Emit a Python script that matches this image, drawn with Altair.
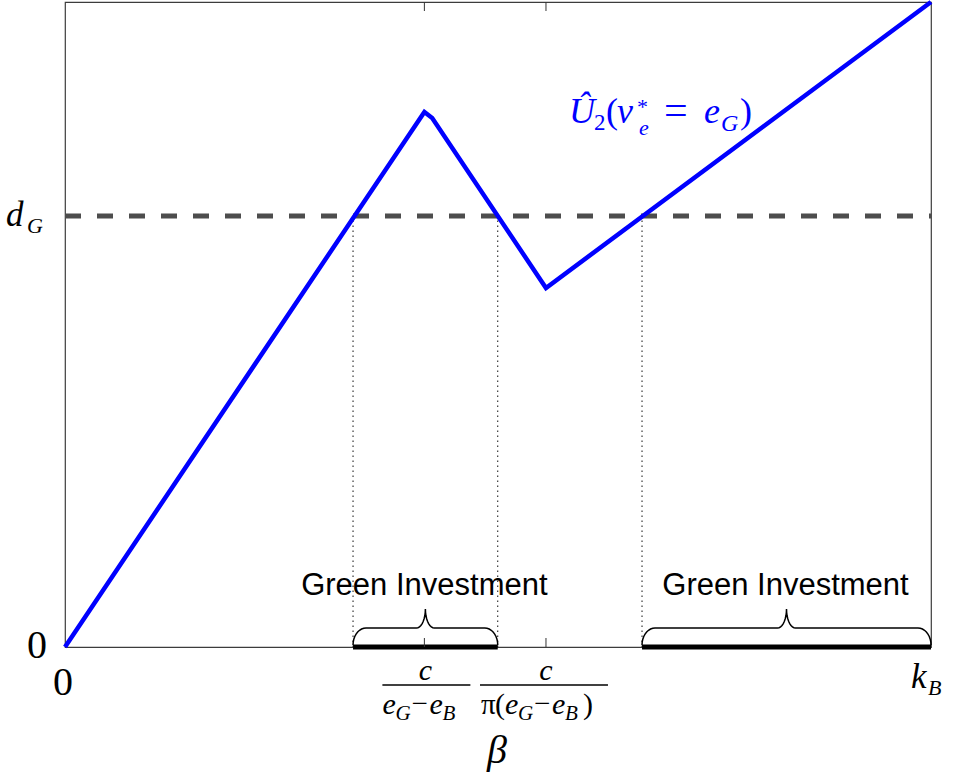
import altair as alt
import pandas as pd
import numpy as np

# ---------------- data ----------------
beta = [0.0, 4.15, 4.24, 5.554, 10.0]          # x positions of the utility curve vertices (k_B = 10)
u2 = [0.0, 8.295, 8.202, 5.566, 10.0]          # Û2(v*_e = e_G)
d_G = 6.682                                     # dashed threshold level
crossings = [3.326, 4.997, 6.663]               # where the curve crosses d_G
tick_x = [4.15, 5.554]                          # c/(eG-eB), c/(pi(eG-eB))
invest_start = [3.326, 6.663]                   # green investment intervals
invest_end = [4.997, 10.0]

# ---------------- geometry helpers ----------------
W, H = 866, 645
XMAX, YMAX = 10.0, 10.0
def px2x(px):
    return (px - 65) / W * XMAX
def py2y(py):
    return (647 - py) / H * YMAX
def x2px(x):
    return 65 + x / XMAX * W

xs = alt.Scale(domain=[0, XMAX], nice=False, zero=False)
ys = alt.Scale(domain=[0, YMAX], nice=False, zero=False)
X = lambda f: alt.X(f, type="quantitative", scale=xs, axis=None)
Y = lambda f: alt.Y(f, type="quantitative", scale=ys, axis=None)

curve = pd.DataFrame({"x": beta, "y": u2})
line = alt.Chart(curve).mark_line(color="#0000ff", strokeWidth=4.5, strokeJoin="miter").encode(
    x=X("x"), y=Y("y"))

dash = alt.Chart(pd.DataFrame({"x": [0.0], "x2": [XMAX], "y": [d_G]})).mark_rule(
    color="#4d4d4d", strokeWidth=5, strokeDash=[16, 16]).encode(x=X("x"), x2="x2", y=Y("y"))

dots = alt.Chart(pd.DataFrame({"x": crossings, "y": [0.0] * 3, "y2": [d_G] * 3})).mark_rule(
    color="#111111", strokeWidth=1, strokeDash=[1.5, 3.5]).encode(x=X("x"), y=Y("y"), y2="y2")

segs = alt.Chart(pd.DataFrame({"x": invest_start, "x2": invest_end, "y": [0.0, 0.0]})).mark_rule(
    color="black", strokeWidth=5).encode(x=X("x"), x2="x2", y=Y("y"))

# tick marks pointing inward (bottom and top)
tk = 9 / H * YMAX
ticks = alt.Chart(pd.DataFrame({
    "x": tick_x + tick_x,
    "y": [0.0, 0.0, YMAX, YMAX],
    "y2": [tk, tk, YMAX - tk, YMAX - tk]})).mark_rule(color="#333333", strokeWidth=1).encode(
    x=X("x"), y=Y("y"), y2="y2")

# curly braces over the investment intervals
rows = []
for b, (a0, a1) in enumerate(zip(invest_start, invest_end)):
    p0, p1 = x2px(a0), x2px(a1)
    mid = (p0 + p1) / 2
    base, flat, top = 645.0, 628.0, 609.0
    rx, rxm = 13.0, 9.0
    pts = []
    for t in np.linspace(0, np.pi / 2, 10):
        pts.append((p0 + rx - rx * np.cos(t), base - (base - flat) * np.sin(t)))
    for t in np.linspace(0, np.pi / 2, 10):
        pts.append((mid - rxm + rxm * np.sin(t), top + (flat - top) * np.cos(t)))
    for t in np.linspace(np.pi / 2, 0, 10):
        pts.append((mid + rxm - rxm * np.sin(t), top + (flat - top) * np.cos(t)))
    for t in np.linspace(np.pi / 2, 0, 10):
        pts.append((p1 - rx + rx * np.cos(t), base - (base - flat) * np.sin(t)))
    for i, (px, py) in enumerate(pts):
        rows.append({"b": b, "i": i, "x": px2x(px), "y": py2y(py)})
braces = alt.Chart(pd.DataFrame(rows)).mark_line(color="black", strokeWidth=1.5).encode(
    x=X("x"), y=Y("y"), detail="b:N", order="i:Q")

# fraction bars
t1, t2 = x2px(tick_x[0]), x2px(tick_x[1])
bars = alt.Chart(pd.DataFrame({
    "x": [px2x(t1 - 42), px2x(t2 - 66)],
    "x2": [px2x(t1 + 46), px2x(t2 + 62)],
    "y": [py2y(685)] * 2})).mark_rule(color="black", strokeWidth=1.6).encode(
    x=X("x"), x2="x2", y=Y("y"))

# ---------------- text pieces ----------------
SER, SANS = "Liberation Serif", "Liberation Sans"
K, B = "#000000", "#0000ff"
pieces = [
    # y tick labels
    ("0", 37, 658, 40, False, "center", K, SER),
    ("d", 6, 226, 35, True, "left", K, SER),
    ("G", 27, 233, 22, True, "left", K, SER),
    # x tick labels
    ("0", 63, 695, 40, False, "center", K, SER),
    ("k", 911, 688, 35, True, "left", K, SER),
    ("B", 928, 695, 22, True, "left", K, SER),
    # fraction 1
    ("c", t1 + 1, 680, 30, True, "center", K, SER),
    ("e", t1 - 42, 714, 30, True, "left", K, SER),
    ("G", t1 - 29, 720, 21, True, "left", K, SER),
    ("\u2212", t1 - 13, 713, 29, False, "left", K, SER),
    ("e", t1 + 5, 714, 30, True, "left", K, SER),
    ("B", t1 + 18, 720, 21, True, "left", K, SER),
    # fraction 2
    ("c", t2 + 0, 680, 30, True, "center", K, SER),
    ("\u03c0", t2 - 65, 714, 29, False, "left", K, SER),
    ("(", t2 - 51, 714, 30, False, "left", K, SER),
    ("e", t2 - 41, 714, 30, True, "left", K, SER),
    ("G", t2 - 28, 720, 21, True, "left", K, SER),
    ("\u2212", t2 - 12, 713, 29, False, "left", K, SER),
    ("e", t2 + 6, 714, 30, True, "left", K, SER),
    ("B", t2 + 19, 720, 21, True, "left", K, SER),
    (")", t2 + 37, 714, 30, False, "left", K, SER),
    # axis title
    ("\u03b2", 497, 763, 40, True, "center", K, SER),
    # brace labels
    ("Green Investment", x2px((invest_start[0] + invest_end[0]) / 2) - 1, 595, 31, False, "center", K, SANS),
    ("Green Investment", x2px((invest_start[1] + invest_end[1]) / 2) - 1, 595, 31, False, "center", K, SANS),
    # curve label
    ("\u00db", 569, 123, 36, True, "left", B, SER),
    ("2", 594, 130, 23, False, "left", B, SER),
    ("(", 606, 123, 36, False, "left", B, SER),
    ("v", 617, 123, 36, True, "left", B, SER),
    ("*", 637, 114, 22, False, "left", B, SER),
    ("e", 639, 135, 22, True, "left", B, SER),
    ("=", 664, 124, 42, False, "left", B, SER),
    ("e", 704, 123, 36, True, "left", B, SER),
    ("G", 721, 131, 24, True, "left", B, SER),
    (")", 740, 123, 36, False, "left", B, SER),
]
tdf = pd.DataFrame([{"t": t, "x": px2x(px), "y": py2y(py), "s": s, "it": it, "al": al, "c": c, "f": f}
                    for (t, px, py, s, it, al, c, f) in pieces])

text_layers = []
for (it, al, f), sub in tdf.groupby(["it", "al", "f"]):
    text_layers.append(
        alt.Chart(sub).mark_text(align=al, baseline="alphabetic", font=f,
                                 fontStyle="italic" if it else "normal").encode(
            x=X("x"), y=Y("y"), text="t:N",
            size=alt.Size("s:Q", scale=None, legend=None),
            color=alt.Color("c:N", scale=None, legend=None)))

chart = alt.layer(dots, dash, line, segs, braces, ticks, bars, *text_layers).properties(
    width=W, height=H,
    padding={"left": 65, "top": 2, "right": 22, "bottom": 128},
    autosize=alt.AutoSizeParams(type="none"),
    background="white",
).configure_view(stroke="#3c3c3c", strokeWidth=1.2)

chart.save("out.html", embed_options={"renderer": "svg", "actions": False})
